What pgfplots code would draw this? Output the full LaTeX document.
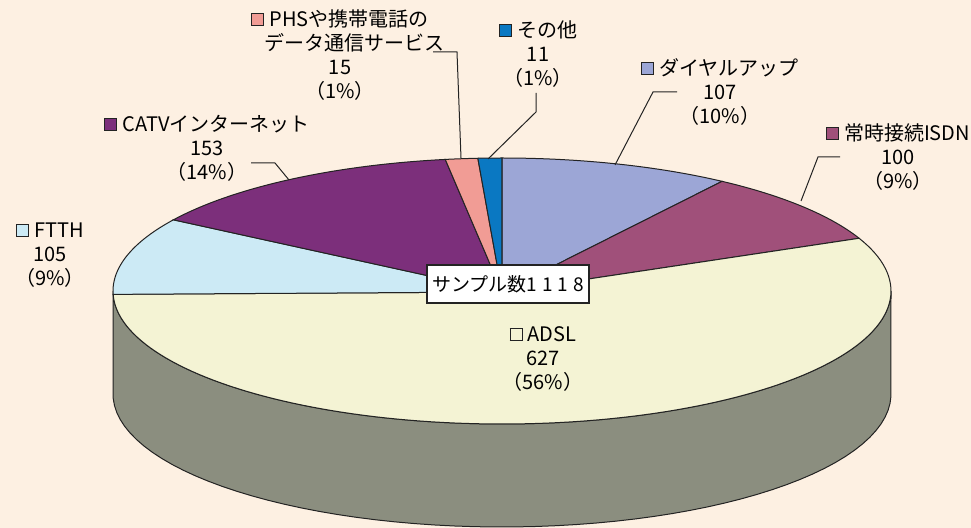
\documentclass[border=0pt]{standalone}
\usepackage{pgfplots}
\usepackage{pgfplotstable}
\pgfplotsset{compat=1.18}
\usepackage{fontspec}
\setmainfont{Noto Sans CJK JP}
\definecolor{cBg}{RGB}{253,240,226}
\definecolor{cDial}{RGB}{156,166,214}
\definecolor{cISDN}{RGB}{160,80,122}
\definecolor{cADSL}{RGB}{244,243,212}
\definecolor{cFTTH}{RGB}{204,234,245}
\definecolor{cCATV}{RGB}{124,47,123}
\definecolor{cPHS}{RGB}{241,156,149}
\definecolor{cOther}{RGB}{10,120,194}
\definecolor{cSide}{RGB}{139,142,127}
\definecolor{cLine}{RGB}{35,35,35}
\definecolor{cText}{RGB}{45,45,45}
\newcommand\sq[1]{\raisebox{0.6pt}{\setlength\fboxsep{0pt}\setlength\fboxrule{0.5pt}\fcolorbox{cLine}{#1}{\rule{0pt}{5.5pt}\rule{5.5pt}{0pt}}}\hspace{2.5pt}}
\pgfplotstableread{
label value
Dial 107
ISDN 100
ADSL 627
FTTH 105
CATV 153
PHS 15
Other 11
}\piedata
\begin{document}
\begin{tikzpicture}
\pgfplotstablegetelem{0}{value}\of\piedata \let\vA\pgfplotsretval
\pgfplotstablegetelem{1}{value}\of\piedata \let\vB\pgfplotsretval
\pgfplotstablegetelem{2}{value}\of\piedata \let\vC\pgfplotsretval
\pgfplotstablegetelem{3}{value}\of\piedata \let\vD\pgfplotsretval
\pgfplotstablegetelem{4}{value}\of\piedata \let\vE\pgfplotsretval
\pgfplotstablegetelem{5}{value}\of\piedata \let\vF\pgfplotsretval
\pgfplotstablegetelem{6}{value}\of\piedata \let\vG\pgfplotsretval
\pgfmathsetmacro\tot{\vA+\vB+\vC+\vD+\vE+\vF+\vG}
\pgfmathsetmacro\aA{90-\vA/\tot*360}
\pgfmathsetmacro\aB{\aA-\vB/\tot*360}
\pgfmathsetmacro\aC{\aB-\vC/\tot*360}
\pgfmathsetmacro\aD{\aC-\vD/\tot*360}
\pgfmathsetmacro\aE{\aD-\vE/\tot*360}
\pgfmathsetmacro\aF{\aE-\vF/\tot*360}
\pgfmathsetmacro\aG{\aF-\vG/\tot*360}
\begin{axis}[
  width=485.5pt, height=264pt, scale only axis,
  xmin=0, xmax=971, ymin=0, ymax=528, y dir=reverse,
  hide axis,
  every node/.append style={font=\fontsize{9.2}{11.5}\selectfont, text=cText},
]
\addplot[fill=cBg, draw=none] coordinates {(0,0) (971,0) (971,528) (0,528)} -- cycle;
% side of the cylinder
\addplot[fill=cSide, draw=cLine, line width=0.5pt,
  samples at={180,183,...,360,361,364,...,538,540}]
  ({502+389*cos(ifthenelse(x<=360,x,720-x))},
   {291-133*sin(ifthenelse(x<=360,x,720-x))+ifthenelse(x>360,103,0)}) -- cycle;
% slices
\addplot[fill=cDial, draw=cLine, line width=0.5pt, domain=\aA:90, samples=40]
  ({502+389*cos(x)},{291-133*sin(x)}) -- (axis cs:502,292) -- cycle;
\addplot[fill=cISDN, draw=cLine, line width=0.5pt, domain=\aB:\aA, samples=40]
  ({502+389*cos(x)},{291-133*sin(x)}) -- (axis cs:502,292) -- cycle;
\addplot[fill=cADSL, draw=cLine, line width=0.5pt, domain=\aC:\aB, samples=120]
  ({502+389*cos(x)},{291-133*sin(x)}) -- (axis cs:502,292) -- cycle;
\addplot[fill=cFTTH, draw=cLine, line width=0.5pt, domain=\aD:\aC, samples=40]
  ({502+389*cos(x)},{291-133*sin(x)}) -- (axis cs:502,292) -- cycle;
\addplot[fill=cCATV, draw=cLine, line width=0.5pt, domain=\aE:\aD, samples=50]
  ({502+389*cos(x)},{291-133*sin(x)}) -- (axis cs:502,292) -- cycle;
\addplot[fill=cPHS, draw=cLine, line width=0.5pt, domain=\aF:\aE, samples=10]
  ({502+389*cos(x)},{291-133*sin(x)}) -- (axis cs:502,292) -- cycle;
\addplot[fill=cOther, draw=cLine, line width=0.5pt, domain=\aG:\aF, samples=10]
  ({502+389*cos(x)},{291-133*sin(x)}) -- (axis cs:502,292) -- cycle;
% leader lines
\addplot[cLine, line width=0.5pt] coordinates {(615,165) (653,92) (677,92)};
\addplot[cLine, line width=0.5pt] coordinates {(801,201) (818,157) (840,157)};
\addplot[cLine, line width=0.5pt] coordinates {(289,180) (275,163) (251,163)};
\addplot[cLine, line width=0.5pt] coordinates {(433,52) (457,52) (461,158)};
\addplot[cLine, line width=0.5pt] coordinates {(536,93) (536,112) (488,159)};
% labels
\node[align=center] at (axis cs:340,55) {\sq{cPHS}PHSや携帯電話の\\\hspace*{14pt}データ通信サービス\\15\\（1\%）};
\node[align=center] at (axis cs:538,54) {\sq{cOther}その他\\11\\（1\%）};
\node[align=center] at (axis cs:720,92) {\sq{cDial}ダイヤルアップ\\107\\（10\%）};
\node[align=center] at (axis cs:898,157) {\sq{cISDN}常時接続ISDN\\100\\（9\%）};
\node[align=center] at (axis cs:207,148) {\sq{cCATV}CATVインターネット\\153\\（14\%）};
\node[align=center] at (axis cs:50,255) {\sq{cFTTH}FTTH\\105\\（9\%）};
\node[align=center] at (axis cs:543,359) {\sq{cADSL}ADSL\\627\\（56\%）};
\node[draw=cLine, fill=white, line width=0.6pt, minimum width=81pt, minimum height=19pt, inner sep=2pt, font=\fontsize{9.5}{11}\selectfont] at (axis cs:508,284) {サンプル数1\hspace{2.5pt}1\hspace{2.5pt}1\hspace{2.5pt}8};
\end{axis}
\end{tikzpicture}
\end{document}
